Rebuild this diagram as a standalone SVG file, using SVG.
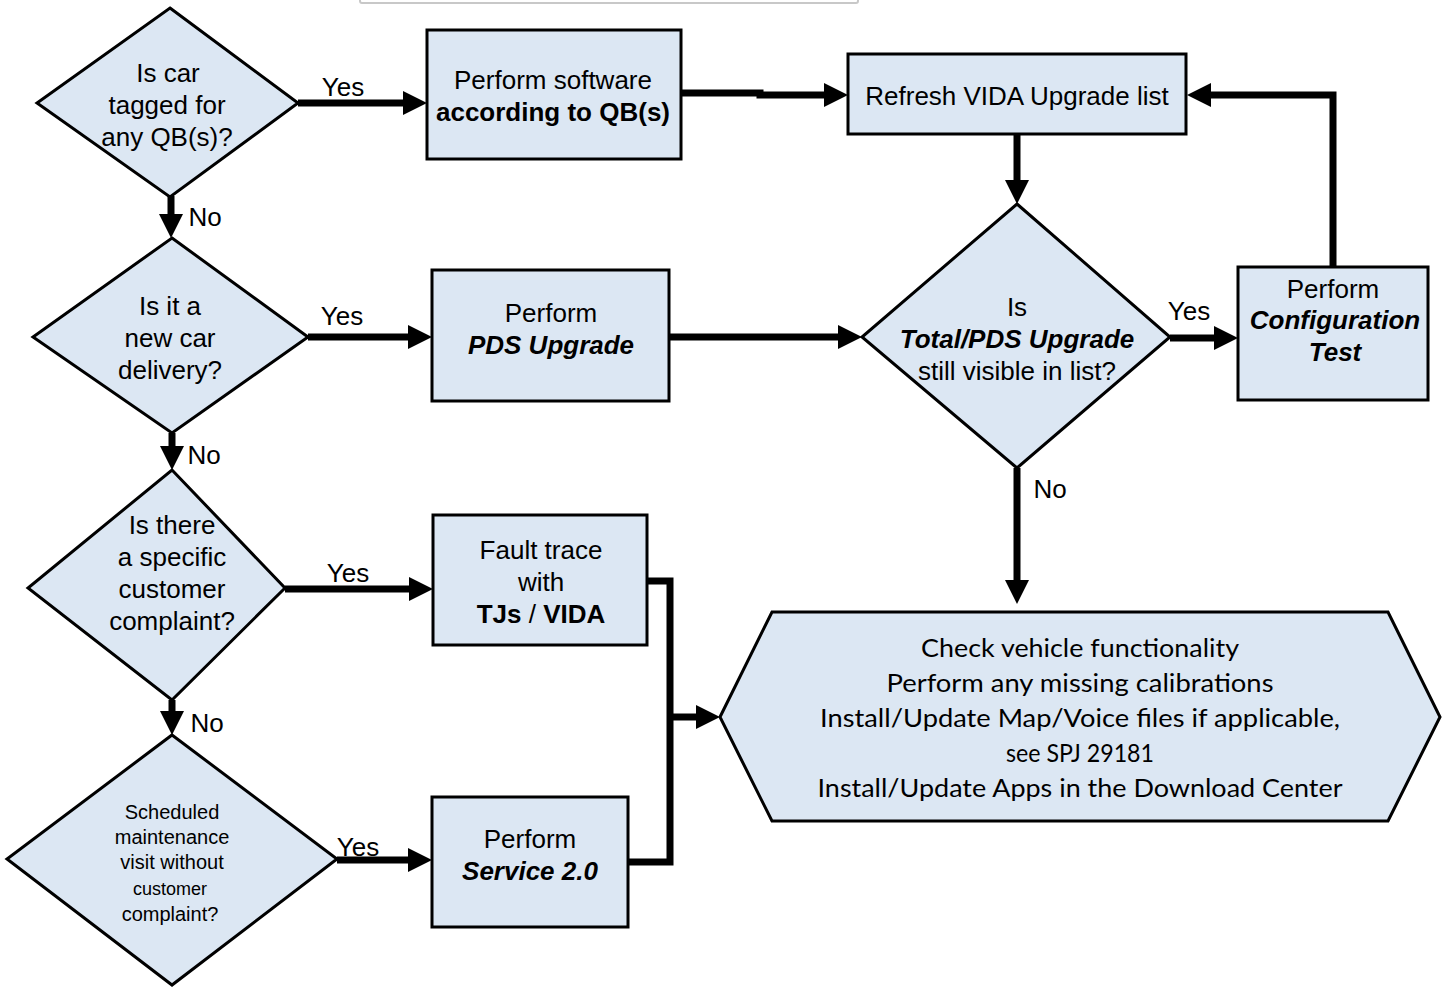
<svg xmlns="http://www.w3.org/2000/svg" width="1449" height="988" viewBox="0 0 1449 988">
<defs>
<style>
.n{fill:#dce7f3;stroke:#000;stroke-width:3}
.t{font-family:"Liberation Sans",Arial,sans-serif;font-size:26px;fill:#000;text-anchor:middle}
.s{font-size:20px}
.b{font-weight:bold}
.bi{font-weight:bold;font-style:italic}
.h{font-family:Lato,"Open Sans",sans-serif;font-size:25px;fill:#000;text-anchor:middle}
.c{fill:none;stroke:#000;stroke-width:7}
</style>
<marker id="ah" markerUnits="userSpaceOnUse" markerWidth="25" markerHeight="25" refX="0" refY="12" orient="auto" overflow="visible">
<path d="M0,0 L24,12 L0,24 z" fill="#000"/>
</marker>
</defs>
<rect width="1449" height="988" fill="#fff"/>
<rect x="360" y="-10" width="498" height="13" rx="2" fill="#fff" stroke="#c8c8c8" stroke-width="2"/>

<g id="connectors">
<line class="c" x1="298" y1="103" x2="403" y2="103" marker-end="url(#ah)"/>
<line class="c" x1="171" y1="196" x2="171" y2="214" marker-end="url(#ah)"/>
<polyline class="c" points="681,93 760,93 760,95 824,95" marker-end="url(#ah)"/>
<line class="c" x1="308" y1="337" x2="408" y2="337" marker-end="url(#ah)"/>
<line class="c" x1="669" y1="337" x2="838" y2="337" marker-end="url(#ah)"/>
<line class="c" x1="172" y1="433" x2="172" y2="446" marker-end="url(#ah)"/>
<line class="c" x1="285" y1="589" x2="409" y2="589" marker-end="url(#ah)"/>
<line class="c" x1="172" y1="700" x2="172" y2="711" marker-end="url(#ah)"/>
<line class="c" x1="337" y1="860" x2="408" y2="860" marker-end="url(#ah)"/>
<polyline class="c" points="647,581 670,581 670,862 628,862"/>
<line class="c" x1="670" y1="717" x2="696" y2="717" marker-end="url(#ah)"/>
<line class="c" x1="1017" y1="134" x2="1017" y2="180" marker-end="url(#ah)"/>
<line class="c" x1="1170" y1="338" x2="1214" y2="338" marker-end="url(#ah)"/>
<polyline class="c" points="1333,268 1333,95 1211,95" marker-end="url(#ah)"/>
<line class="c" x1="1017" y1="468" x2="1017" y2="580" marker-end="url(#ah)"/>
<text class="t" x="343" y="96">Yes</text>
<text class="t" x="205" y="226">No</text>
<text class="t" x="342" y="325">Yes</text>
<text class="t" x="204" y="464">No</text>
<text class="t" x="348" y="582">Yes</text>
<text class="t" x="207" y="732">No</text>
<text class="t" x="358" y="856">Yes</text>
<text class="t" x="1189" y="320">Yes</text>
<text class="t" x="1050" y="498">No</text>
</g>

<g id="d1">
<polygon class="n" points="170,8 298,103 170,197 37,103"/>
<text class="t" x="168" y="82">Is car</text>
<text class="t" x="167" y="114">tagged for</text>
<text class="t" x="167" y="146">any QB(s)?</text>
</g>
<g id="box1">
<rect class="n" x="427" y="30" width="254" height="129"/>
<text class="t" x="553" y="89">Perform software</text>
<text class="t b" x="553" y="121">according to QB(s)</text>
</g>
<g id="refresh">
<rect class="n" x="848" y="54" width="338" height="80"/>
<text class="t" x="1017" y="105">Refresh VIDA Upgrade list</text>
</g>
<g id="d2">
<polygon class="n" points="172,238 308,337 172,433 33,337"/>
<text class="t" x="170" y="315">Is it a</text>
<text class="t" x="170" y="347">new car</text>
<text class="t" x="170" y="379">delivery?</text>
</g>
<g id="box2">
<rect class="n" x="432" y="270" width="237" height="131"/>
<text class="t" x="551" y="322">Perform</text>
<text class="t bi" x="551" y="354">PDS Upgrade</text>
</g>
<g id="dr">
<polygon class="n" points="1017,204 1170,337 1017,468 862,337"/>
<text class="t" x="1017" y="316">Is</text>
<text class="t bi" x="1017" y="348">Total/PDS Upgrade</text>
<text class="t" x="1017" y="380">still visible in list?</text>
</g>
<g id="config">
<rect class="n" x="1238" y="267" width="190" height="133"/>
<text class="t" x="1333" y="298">Perform</text>
<text class="t bi" x="1335" y="329">Configuration</text>
<text class="t bi" x="1335" y="361">Test</text>
</g>
<g id="d3">
<polygon class="n" points="172,470 285,588 172,700 28,588"/>
<text class="t" x="172" y="534">Is there</text>
<text class="t" x="172" y="566">a specific</text>
<text class="t" x="172" y="598">customer</text>
<text class="t" x="172" y="630">complaint?</text>
</g>
<g id="box3">
<rect class="n" x="433" y="515" width="214" height="130"/>
<text class="t" x="541" y="559">Fault trace</text>
<text class="t" x="541" y="591">with</text>
<text class="t" x="541" y="623"><tspan class="b">TJs</tspan> / <tspan class="b">VIDA</tspan></text>
</g>
<g id="d4">
<polygon class="n" points="172,735 337,859 172,985 7,859"/>
<text class="t s" x="172" y="819">Scheduled</text>
<text class="t s" x="172" y="844">maintenance</text>
<text class="t s" x="172" y="869">visit without</text>
<text class="t" x="170" y="895" style="font-size:18px">customer</text>
<text class="t s" x="170" y="921">complaint?</text>
</g>
<g id="box4">
<rect class="n" x="432" y="797" width="196" height="130"/>
<text class="t" x="530" y="848">Perform</text>
<text class="t bi" x="530" y="880">Service 2.0</text>
</g>
<g id="hex">
<polygon class="n" points="720,717 772,612 1388,612 1440,717 1388,821 772,821"/>
<text class="h" x="1080" y="657" textLength="318" lengthAdjust="spacingAndGlyphs">Check vehicle functionality</text>
<text class="h" x="1080" y="692" textLength="387" lengthAdjust="spacingAndGlyphs">Perform any missing calibrations</text>
<text class="h" x="1080" y="727" textLength="520" lengthAdjust="spacingAndGlyphs">Install/Update Map/Voice files if applicable,</text>
<text class="h" x="1080" y="762" textLength="148" lengthAdjust="spacingAndGlyphs">see SPJ 29181</text>
<text class="h" x="1080" y="797" textLength="525" lengthAdjust="spacingAndGlyphs">Install/Update Apps in the Download Center</text>
</g>
</svg>
